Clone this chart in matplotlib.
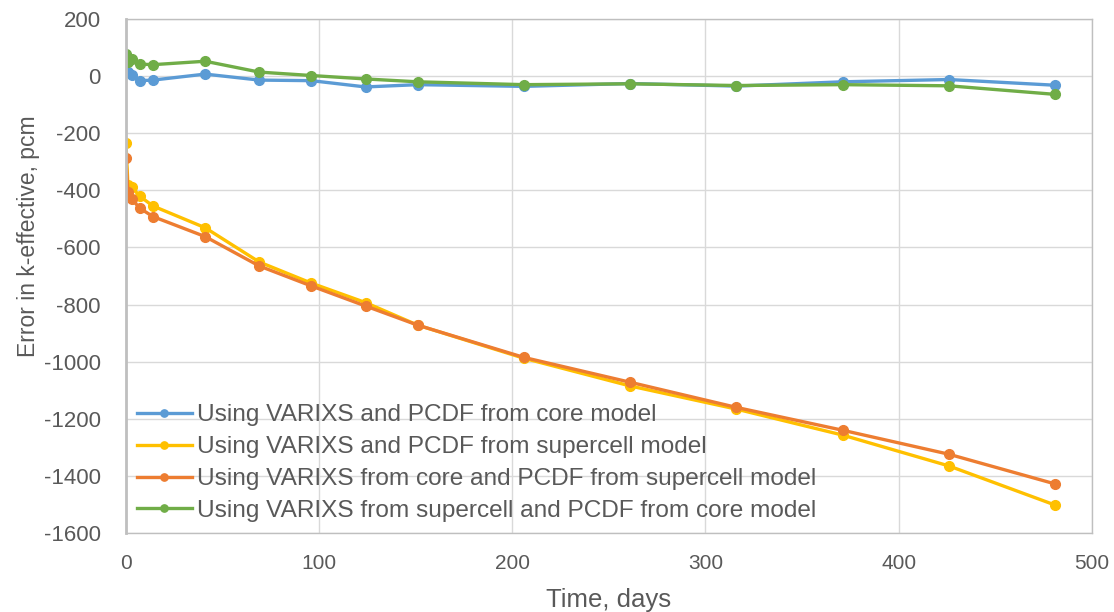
import matplotlib
matplotlib.use("Agg")
import matplotlib.pyplot as plt

plt.rcParams['font.family'] = ['Liberation Sans', 'DejaVu Sans']
plt.rcParams['axes.unicode_minus'] = False

days = [0, 1, 3, 7, 14, 41, 69, 96, 124, 151, 206, 261, 316, 371, 426, 481]

core = [14, 13, 5, -16, -14, 7, -14, -16, -38, -30, -36, -26, -35, -20, -12, -32]
supercell = [-236, -382, -388, -420, -455, -531, -651, -725, -793, -872, -988,
             -1085, -1166, -1257, -1365, -1502]
core_varixs = [-288, -405, -430, -462, -492, -562, -665, -735, -805, -872, -985,
               -1072, -1160, -1240, -1324, -1428]
super_varixs = [77, 50, 60, 42, 40, 52, 14, 2, -10, -20, -30, -27, -33, -30, -34, -64]

labels = ["Using VARIXS and PCDF from core model",
          "Using VARIXS and PCDF from supercell model",
          "Using VARIXS from core and PCDF from supercell model",
          "Using VARIXS from supercell and PCDF from core model"]
colors = ["#5B9BD5", "#FFC000", "#ED7D31", "#70AD47"]

fig = plt.figure(figsize=(11.14, 6.12), dpi=100)
ax = fig.add_axes([0.1131, 0.129, 0.8670, 0.840])

for ys, lab, c in zip([core, supercell, core_varixs, super_varixs], labels, colors):
    ax.plot(days, ys, color=c, lw=2.4, marker='o', ms=7, label=lab)

ax.set_xlim(0, 500)
ax.set_ylim(-1600, 200)
ax.set_xticks(range(0, 501, 100))
ax.set_yticks(range(-1600, 201, 200))
ax.grid(True, color='#d9d9d9', lw=1)
ax.set_axisbelow(True)
for s in ax.spines.values():
    s.set_color('#bfbfbf')
    s.set_linewidth(1)
ax.spines['left'].set_linewidth(2)
ax.tick_params(length=0, colors='#595959')
ax.tick_params(axis='x', labelsize=15, pad=15)
ax.tick_params(axis='y', labelsize=16, pad=18)
ax.set_xlabel("Time, days", fontsize=18.5, color='#595959')
ax.xaxis.set_label_coords(0.5, -0.106)
ax.set_ylabel("Error in k-effective, pcm", fontsize=16.5, color='#595959')
ax.yaxis.set_label_coords(-0.089, 0.578)

leg = ax.legend(loc='lower left', bbox_to_anchor=(0.0, 0.0), frameon=False, fontsize=17.6,
                handlelength=2.25, handletextpad=0.2, labelspacing=0.4,
                borderaxespad=0.05, markerscale=0.75)
for t in leg.get_texts():
    t.set_color('#595959')

fig.savefig("out.png", dpi=100)
